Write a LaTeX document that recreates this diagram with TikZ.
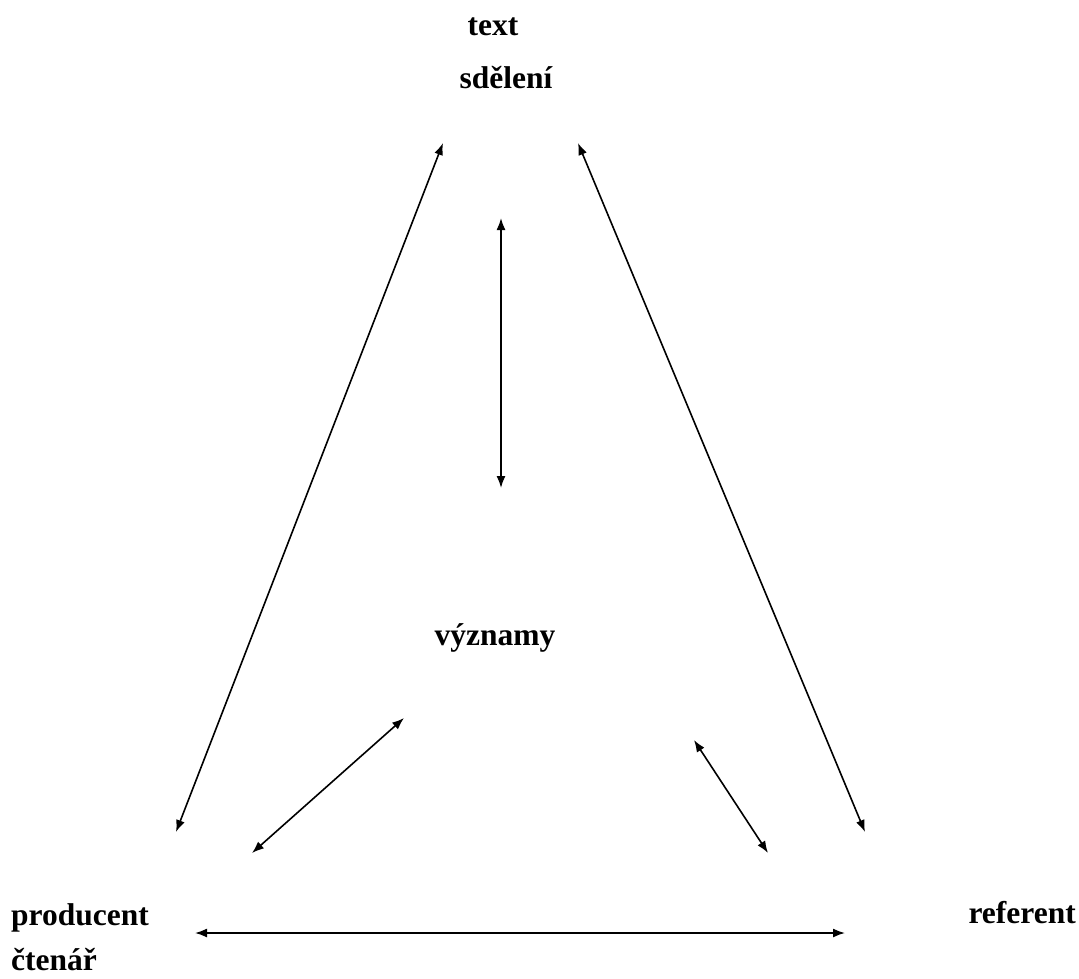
\documentclass[tikz,border=0pt]{standalone}
\usepackage{fontspec}
\setmainfont{Liberation Serif}
\usetikzlibrary{arrows.meta}
\begin{document}
\begin{tikzpicture}[x=1pt,y=-1pt,
  lbl/.style={font=\bfseries\fontsize{31.5}{36}\selectfont, inner sep=0pt, anchor=base},
  link/.style={line width=1.6pt, {Latex[length=12pt,width=9pt]}-{Latex[length=12pt,width=9pt]}}]
\useasboundingbox (0,0) rectangle (1079,978);
\node[lbl] (text) at (493,35) {text};
\node[lbl] (sdeleni) at (506,88) {sdělení};
\node[lbl] (vyznamy) at (495,645) {významy};
\node[lbl, anchor=base west] (producent) at (11,925) {producent};
\node[lbl, anchor=base west] (ctenar) at (11,970) {čtenář};
\node[lbl, anchor=base east] (referent) at (1076,923) {referent};
\coordinate (a1) at (443,143); \coordinate (a2) at (176,832);
\coordinate (b1) at (578,143); \coordinate (b2) at (865,832);
\coordinate (c1) at (501,218); \coordinate (c2) at (501,488);
\coordinate (d1) at (404,718); \coordinate (d2) at (252,853);
\coordinate (e1) at (694,740); \coordinate (e2) at (768,853);
\coordinate (f1) at (195,933); \coordinate (f2) at (845,933);
\draw[link] (a1) -- (a2);
\draw[link] (b1) -- (b2);
\draw[link] (c1) -- (c2);
\draw[link] (d1) -- (d2);
\draw[link] (e1) -- (e2);
\draw[link] (f1) -- (f2);
\end{tikzpicture}
\end{document}
